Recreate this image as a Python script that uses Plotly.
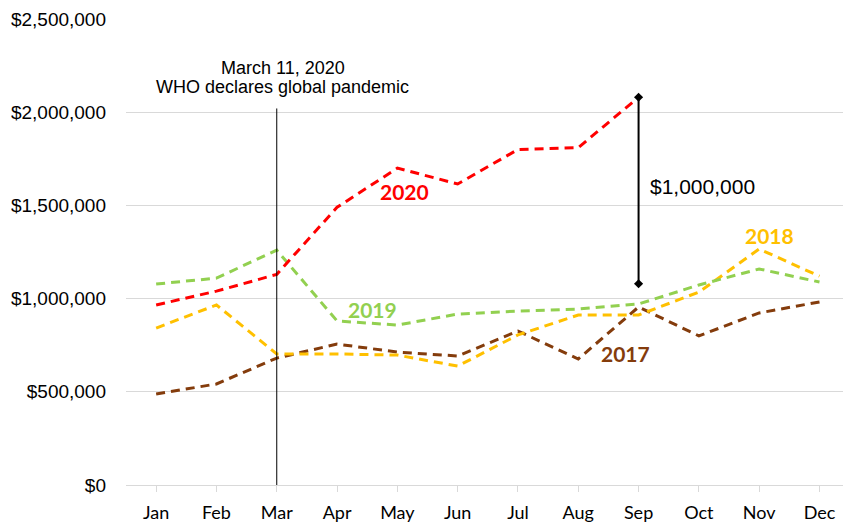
import plotly.graph_objects as go

months = ["Jan", "Feb", "Mar", "Apr", "May", "Jun", "Jul", "Aug", "Sep", "Oct", "Nov", "Dec"]
sales_2017 = [488000, 542000, 681000, 756000, 713000, 692000, 826000, 676000, 955000, 800000, 923000, 982000]
sales_2018 = [842000, 966000, 703000, 703000, 697000, 638000, 805000, 912000, 912000, 1035000, 1266000, 1120000]
sales_2019 = [1078000, 1110000, 1260000, 880000, 858000, 917000, 933000, 944000, 971000, 1073000, 1159000, 1089000]
sales_2020 = [966000, 1040000, 1130000, 1490000, 1700000, 1615000, 1800000, 1810000, 2080000]
y_ticks = [0, 500000, 1000000, 1500000, 2000000, 2500000]
y_tick_labels = ["$0", "$500,000", "$1,000,000", "$1,500,000", "$2,000,000", "$2,500,000"]
gap_value = 1000000

series = [
    ("2017", sales_2017, "#843C0C"),
    ("2018", sales_2018, "#FFC000"),
    ("2019", sales_2019, "#92D050"),
    ("2020", sales_2020, "#FF0000"),
]

fig = go.Figure()
x_idx = list(range(len(months)))
for name, vals, col in series:
    fig.add_trace(go.Scatter(
        x=x_idx[:len(vals)], y=vals, mode="lines", name=name,
        line=dict(color=col, width=3, dash="9px,6px"),
        hoverinfo="skip",
    ))

# vertical line at March
fig.add_shape(type="line", xref="x", yref="y", x0=2, x1=2, y0=0, y1=2020000,
              line=dict(color="black", width=1))

# gap arrow at September
sep_top = sales_2020[8]
fig.add_trace(go.Scatter(
    x=[8, 8], y=[sep_top, sep_top - gap_value], mode="lines+markers",
    line=dict(color="black", width=2),
    marker=dict(symbol="diamond", size=7, color="black"),
    hoverinfo="skip",
))

label_font = "Lato"
annos = [
    dict(x=2.1, y=2237000, text="March 11, 2020", font=dict(family="Liberation Sans, Arial", size=18, color="black"), xanchor="center", yanchor="middle"),
    dict(x=2.1, y=2135000, text="WHO declares global pandemic", font=dict(family="Liberation Sans, Arial", size=18, color="black"), xanchor="center", yanchor="middle"),
    dict(x=8.15, y=1604000, text="$1,000,000", font=dict(family="Liberation Sans, Arial", size=21, color="black"), xanchor="left", yanchor="middle"),
    dict(x=4.11, y=1572000, text="<b>2020</b>", font=dict(family=label_font, size=21, color="#FF0000"), xanchor="center", yanchor="middle"),
    dict(x=3.58, y=944000, text="<b>2019</b>", font=dict(family=label_font, size=21, color="#92D050"), xanchor="center", yanchor="middle"),
    dict(x=10.17, y=1336000, text="<b>2018</b>", font=dict(family=label_font, size=21, color="#FFC000"), xanchor="center", yanchor="middle"),
    dict(x=7.79, y=703000, text="<b>2017</b>", font=dict(family=label_font, size=21, color="#843C0C"), xanchor="center", yanchor="middle"),
]
for a in annos:
    a.update(xref="x", yref="y", showarrow=False)
fig.update_layout(annotations=annos)

fig.update_layout(
    width=843, height=522,
    margin=dict(l=126, r=0, t=19, b=37),
    plot_bgcolor="white", paper_bgcolor="white",
    showlegend=False,
    xaxis=dict(
        tickmode="array", tickvals=x_idx, ticktext=months,
        range=[-0.5, 11.39], showgrid=False, zeroline=False,
        showline=True, linecolor="#D9D9D9", linewidth=1,
        ticks="outside", tickson="boundaries", ticklen=6, tickcolor="#D9D9D9",
        ticklabelstandoff=5,
        tickfont=dict(family="Lato", size=18, color="black"),
    ),
    yaxis=dict(
        tickmode="array", tickvals=y_ticks, ticktext=y_tick_labels,
        range=[0, 2500000], showgrid=True, gridcolor="#D9D9D9", gridwidth=1,
        zeroline=False, showline=False, ticks="",
        ticklabelstandoff=19,
        tickfont=dict(family="Liberation Sans, Arial", size=19, color="black"),
    ),
)

fig.write_html("out.html")
